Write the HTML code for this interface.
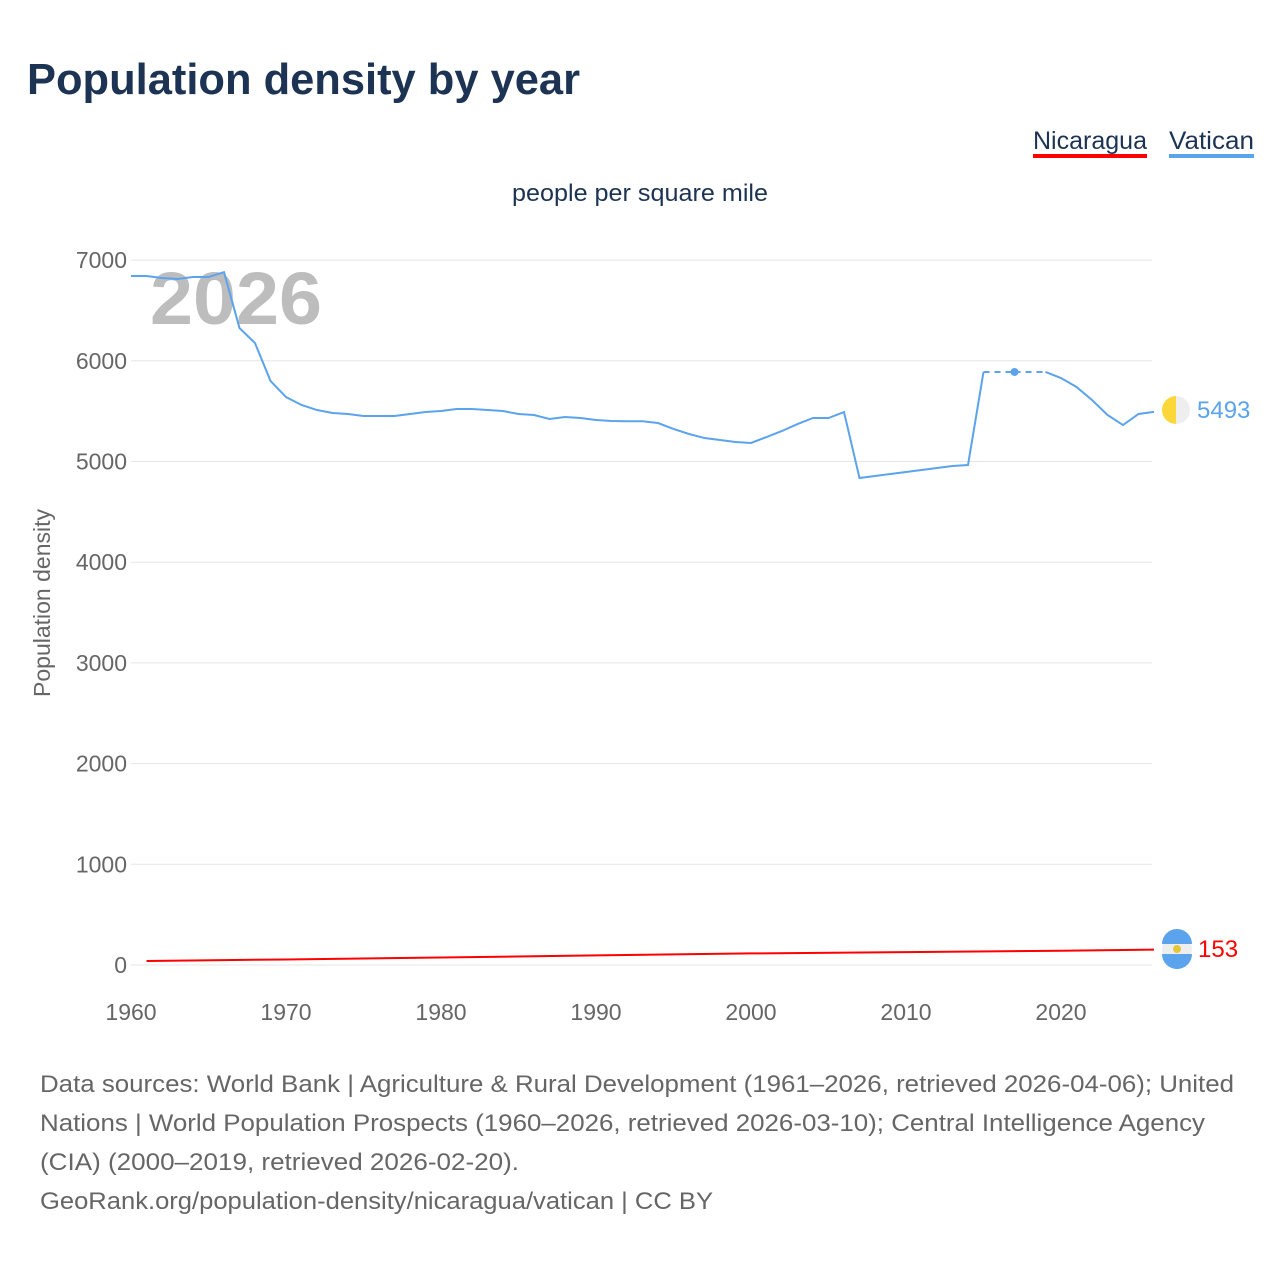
<!DOCTYPE html>
<html><head><meta charset="utf-8"><style>
body{margin:0;background:#fff;font-family:"Liberation Sans",sans-serif;}
svg text{font-family:"Liberation Sans",sans-serif;}
</style></head><body>
<svg width="1280" height="1280" viewBox="0 0 1280 1280" xmlns="http://www.w3.org/2000/svg">
<text x="27" y="94" font-size="44" font-weight="bold" fill="#1d3354" textLength="553" lengthAdjust="spacingAndGlyphs">Population density by year</text>
<g><text x="1033" y="149" font-size="25" fill="#1d3354" textLength="114" lengthAdjust="spacingAndGlyphs">Nicaragua</text><rect x="1033" y="154" width="114" height="4" fill="#f00"/></g>
<g><text x="1169" y="149" font-size="25" fill="#1d3354" textLength="85" lengthAdjust="spacingAndGlyphs">Vatican</text><rect x="1169" y="154" width="85" height="4" fill="#5ba3ec"/></g>
<text x="512" y="201" font-size="24" fill="#1d3354" textLength="256" lengthAdjust="spacingAndGlyphs">people per square mile</text>
<text transform="translate(50,603) rotate(-90)" font-size="23" fill="#666" text-anchor="middle">Population density</text>
<g id="grid"></g><g id="xt"></g>
<text x="150" y="324" font-size="74" font-weight="bold" fill="#bdbdbd" textLength="172" lengthAdjust="spacingAndGlyphs">2026</text>
<g id="lines"></g>
<g><circle cx="1176" cy="410" r="14" fill="#eee"/><path d="M1176 396 A14 14 0 0 0 1176 424 Z" fill="#fcd73a"/></g>
<text x="1197" y="418" font-size="24" fill="#5ba3ec">5493</text>
<g><circle cx="1177" cy="949" r="15" fill="#eee"/><path d="M1162 944 A15 15 0 0 1 1192 944 Z M1162 954 A15 15 0 0 0 1192 954 Z" fill="#5ba3ec"/><circle cx="1177" cy="949" r="4" fill="#e5c53a"/></g>
<text x="1198" y="957" font-size="24" fill="#f00">153</text>
<g font-size="24" fill="#666" lengthAdjust="spacingAndGlyphs">
<text x="40" y="1092" textLength="1194" lengthAdjust="spacingAndGlyphs">Data sources: World Bank | Agriculture &amp; Rural Development (1961–2026, retrieved 2026-04-06); United</text>
<text x="40" y="1131" textLength="1165" lengthAdjust="spacingAndGlyphs">Nations | World Population Prospects (1960–2026, retrieved 2026-03-10); Central Intelligence Agency</text>
<text x="40" y="1170" textLength="479" lengthAdjust="spacingAndGlyphs">(CIA) (2000–2019, retrieved 2026-02-20).</text>
<text x="40" y="1209" textLength="673" lengthAdjust="spacingAndGlyphs">GeoRank.org/population-density/nicaragua/vatican | CC BY</text>
</g>
</svg>
<script>
const yTicks=[0,1000,2000,3000,4000,5000,6000,7000];
const xTicks=[1960,1970,1980,1990,2000,2010,2020];
const vatYears=[1960,1961,1962,1963,1964,1965,1966,1967,1968,1969,1970,1971,1972,1973,1974,1975,1976,1977,1978,1979,1980,1981,1982,1983,1984,1985,1986,1987,1988,1989,1990,1991,1992,1993,1994,1995,1996,1997,1998,1999,2000,2001,2002,2003,2004,2005,2006,2007,2008,2009,2010,2011,2012,2013,2014,2015,2017,2019,2020,2021,2022,2023,2024,2025,2026];
const vatValues=[6842,6842,6822,6812,6832,6832,6880,6325,6176,5800,5640,5561,5511,5482,5472,5452,5452,5452,5472,5491,5501,5521,5521,5511,5501,5472,5462,5422,5442,5432,5412,5402,5400,5400,5382,5323,5273,5233,5214,5194,5184,5243,5303,5372,5432,5432,5491,4836,4856,4876,4896,4916,4935,4955,4965,5889,5889,5889,5829,5740,5611,5462,5362,5472,5493];
const nicYears=[1961,1970,1980,1990,2000,2010,2020,2026];
const nicValues=[40,55,75,95,115,128,142,153];
const X=y=>131+(y-1960)*15.5, Y=v=>965-v*0.1007;
const NS="http://www.w3.org/2000/svg";
const mk=(t,a)=>{const e=document.createElementNS(NS,t);for(const k in a)e.setAttribute(k,a[k]);return e;};
const grid=document.getElementById('grid');
yTicks.forEach(v=>{const l=mk('line',{x1:131,x2:1152,y1:Y(v),y2:Y(v),stroke:'#e6e6e6','stroke-width':1});

grid.appendChild(l);
const t=mk('text',{x:127,y:Y(v)+8,'font-size':23,fill:'#666','text-anchor':'end'});t.textContent=v;

grid.appendChild(t);});
const xt=document.getElementById('xt');
xTicks.forEach(v=>{const t=mk('text',{x:X(v),y:1020,'font-size':23,fill:'#666','text-anchor':'middle'});t.textContent=v;

xt.appendChild(t);});
const L=document.getElementById('lines');
let segs=[[]],dash=[];
for(let i=0;i<vatYears.length;i++){const p=[X(vatYears[i]),Y(vatValues[i])];
 if(i>0&&vatYears[i]-vatYears[i-1]>1){dash.push([segs[segs.length-1].slice(-1)[0],p]);segs.push([]);}
 segs[segs.length-1].push(p);}
segs.forEach(s=>{if(s.length>1){const pl=mk('polyline',{points:s.map(p=>p.join(',')).join(' '),fill:'none',stroke:'#5ba3ec','stroke-width':2});

L.appendChild(pl);}else{const c=mk('circle',{cx:s[0][0],cy:s[0][1],r:4,fill:'#5ba3ec'});

L.appendChild(c);}});
dash.forEach(d=>{const l=mk('line',{x1:d[0][0],y1:d[0][1],x2:d[1][0],y2:d[1][1],stroke:'#5ba3ec','stroke-width':2,'stroke-dasharray':'6,5'});

L.appendChild(l);});
const nl=mk('polyline',{points:nicYears.map((y,i)=>X(y)+','+Y(nicValues[i])).join(' '),fill:'none',stroke:'#f00','stroke-width':2});

L.appendChild(nl);
</script>
</body></html>
